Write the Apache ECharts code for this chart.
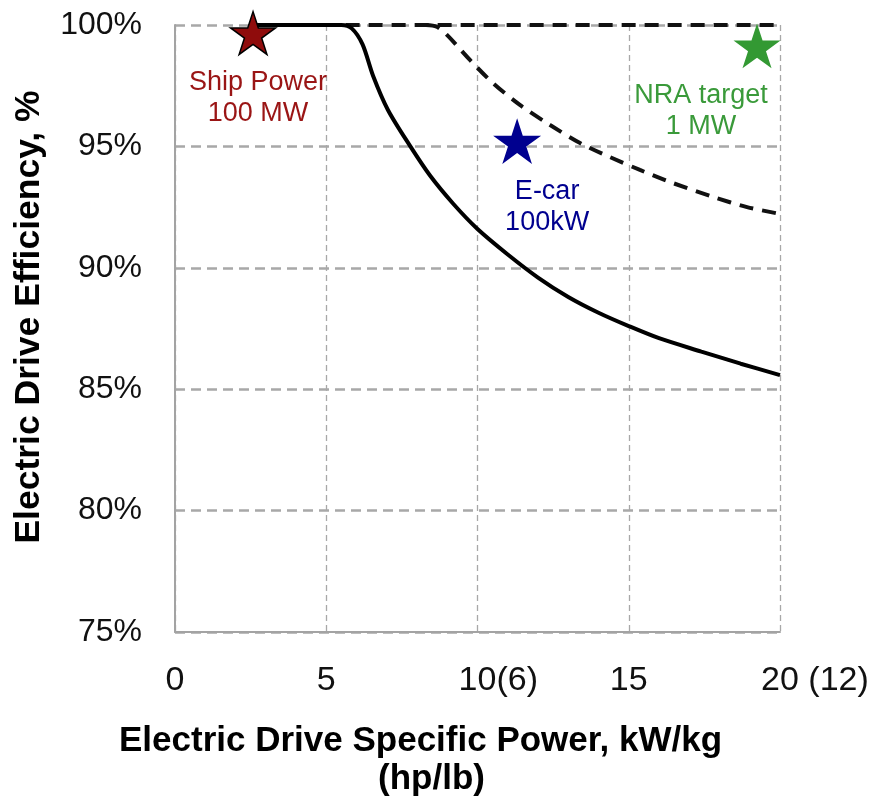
<!DOCTYPE html>
<html>
<head>
<meta charset="utf-8">
<script src="https://cdn.jsdelivr.net/npm/echarts@6/dist/echarts.min.js"></script>
<style>
html,body{margin:0;padding:0;background:#fff;}
#chart{width:873px;height:796px;}
</style>
</head>
<body>
<div id="chart"></div>
<script>
// ---- data ----
const solidX = [2.6, 5.5, 5.85, 6.2, 6.55, 7.04, 7.77, 8.43, 9.19, 10, 11, 12, 13, 14, 15, 16, 17.4, 18.7, 20];
const solidY = [100, 100, 99.85, 99.2, 97.9, 96.5, 95.02, 93.8, 92.65, 91.6, 90.55, 89.6, 88.8, 88.15, 87.6, 87.1, 86.55, 86.05, 85.58];
const dashX = [8.3, 8.65, 8.99, 9.75, 10.51, 11.40, 12.40, 13.39, 14.38, 15.37, 16.46, 17.79, 18.91, 20.0];
const dashY = [100, 99.93, 99.59, 98.56, 97.61, 96.71, 95.88, 95.14, 94.56, 94.03, 93.49, 92.92, 92.50, 92.22];
const flatX = [2.6, 20];
const flatY = [100, 100];
const starNames = ['Ship Power\n100 MW', 'E-car\n100kW', 'NRA target\n1 MW'];
const starX = [2.58, 11.31, 19.24];
const starY = [99.67, 95.22, 99.14];
const xTickNums = [0, 5, 10, 15, 20];
const xTickSuffix = ['', '', '(6)', '', ' (12)'];
const yTickVals = [75, 80, 85, 90, 95, 100];
const xTitle = 'Electric Drive Specific Power, kW/kg';
const xTitle2 = '(hp/lb)';
const yTitle = 'Electric Drive Efficiency, %';

// ---- styling ----
const starColors = ['#8f0c0c', '#00008f', '#339933'];
const labelColors = ['#9a1515', '#00008f', '#3a9a3a'];
const starBorder = ['#000', null, null];
const starSizes = [45, 48, 47];
const labelOffsets = [[5, 65], [30, 66], [-56, 65]];
const STAR = 'path://M100,0L122.45,69.1L195.1,69.1L136.3,111.8L158.8,180.9L100,138.2L41.2,180.9L63.7,111.8L4.9,69.1L77.55,69.1Z';

const FONT = '"Liberation Sans", Arial, sans-serif';
const xLabelSize = 34;
const ctx = document.createElement('canvas').getContext('2d');
ctx.font = xLabelSize + 'px "Liberation Sans"';
const rich = { n: { fontSize: xLabelSize, fontFamily: FONT, color: '#111' } };
xTickSuffix.forEach((s, i) => {
  if (s) {
    rich['p' + i] = { width: ctx.measureText(s).width, fontSize: xLabelSize, fontFamily: FONT };
    rich['s' + i] = { fontSize: xLabelSize, fontFamily: FONT, color: '#111' };
  }
});

const zip = (a, b) => a.map((v, i) => [v, b[i]]);

const chart = echarts.init(document.getElementById('chart'), null, { renderer: 'canvas' });
chart.setOption({
  animation: false,
  backgroundColor: '#fff',
  grid: { left: 175, right: 93, top: 25, bottom: 164, containLabel: false, outerBoundsMode: 'none' },
  xAxis: {
    type: 'value', min: 0, max: 20, interval: 5,
    axisLine: { show: true, lineStyle: { color: '#a3a3a3', width: 2 } },
    axisTick: { show: false },
    splitLine: { show: true, lineStyle: { color: '#a8a8a8', width: 1.3, type: [6, 4] } },
    axisLabel: {
      margin: 32, fontSize: xLabelSize, fontFamily: FONT, color: '#111',
      showMinLabel: true, showMaxLabel: true, hideOverlap: false,
      formatter: function (v) {
        const i = xTickNums.indexOf(v);
        const s = i >= 0 ? xTickSuffix[i] : '';
        if (!s) return '{n|' + v + '}';
        return '{p' + i + '| }{n|' + v + '}{s' + i + '|' + s + '}';
      },
      rich: rich
    },
    name: '{a|' + xTitle + '}\n{b|' + xTitle2 + '}',
    nameLocation: 'middle', nameGap: 90,
    nameTextStyle: {
      padding: [0, 114, 0, 0],
      rich: {
        a: { fontSize: 35, fontWeight: 'bold', fontFamily: FONT, color: '#000', lineHeight: 38 },
        b: { fontSize: 35, fontWeight: 'bold', fontFamily: FONT, color: '#000', lineHeight: 38, padding: [0, 0, 0, 22] }
      }
    }
  },
  yAxis: {
    type: 'value', min: 75, max: 100, interval: 5,
    axisLine: { show: true, lineStyle: { color: '#a3a3a3', width: 2 } },
    axisTick: { show: false },
    splitLine: { show: true, lineStyle: { color: '#a8a8a8', width: 2.5, type: [10, 6] } },
    axisLabel: {
      margin: 33, fontSize: 32, fontFamily: FONT, color: '#111',
      formatter: function (v) { return yTickVals.indexOf(v) >= 0 ? v + '%' : ''; }
    },
    name: yTitle, nameLocation: 'middle', nameGap: 128,
    nameTextStyle: { fontSize: 35.5, fontWeight: 'bold', fontFamily: FONT, color: '#000', padding: [0, 0, 0, 23] }
  },
  series: [
    {
      type: 'line', data: zip(flatX, flatY), showSymbol: false, clip: false, z: 3,
      lineStyle: { color: '#111', width: 4, type: [14, 9] }
    },
    {
      type: 'line', data: zip(dashX, dashY), showSymbol: false, clip: false, smooth: 0.3, z: 3,
      lineStyle: { color: '#111', width: 4, type: [14, 9] }
    },
    {
      type: 'line', data: zip(solidX, solidY), showSymbol: false, clip: false, smooth: 0.3, z: 4,
      lineStyle: { color: '#000', width: 4 }
    },
    {
      type: 'scatter', clip: false, z: 5,
      data: starNames.map((n, i) => ({
        value: [starX[i], starY[i]],
        symbol: STAR, symbolSize: starSizes[i], symbolKeepAspect: true,
        itemStyle: { color: starColors[i], borderColor: starBorder[i] || starColors[i], borderWidth: starBorder[i] ? 1.5 : 0, opacity: 1 },
        label: {
          show: true, position: 'inside', offset: labelOffsets[i], formatter: n,
          fontSize: 27, fontFamily: FONT, color: labelColors[i], lineHeight: 31, align: 'center'
        }
      }))
    }
  ]
});
</script>
</body>
</html>
